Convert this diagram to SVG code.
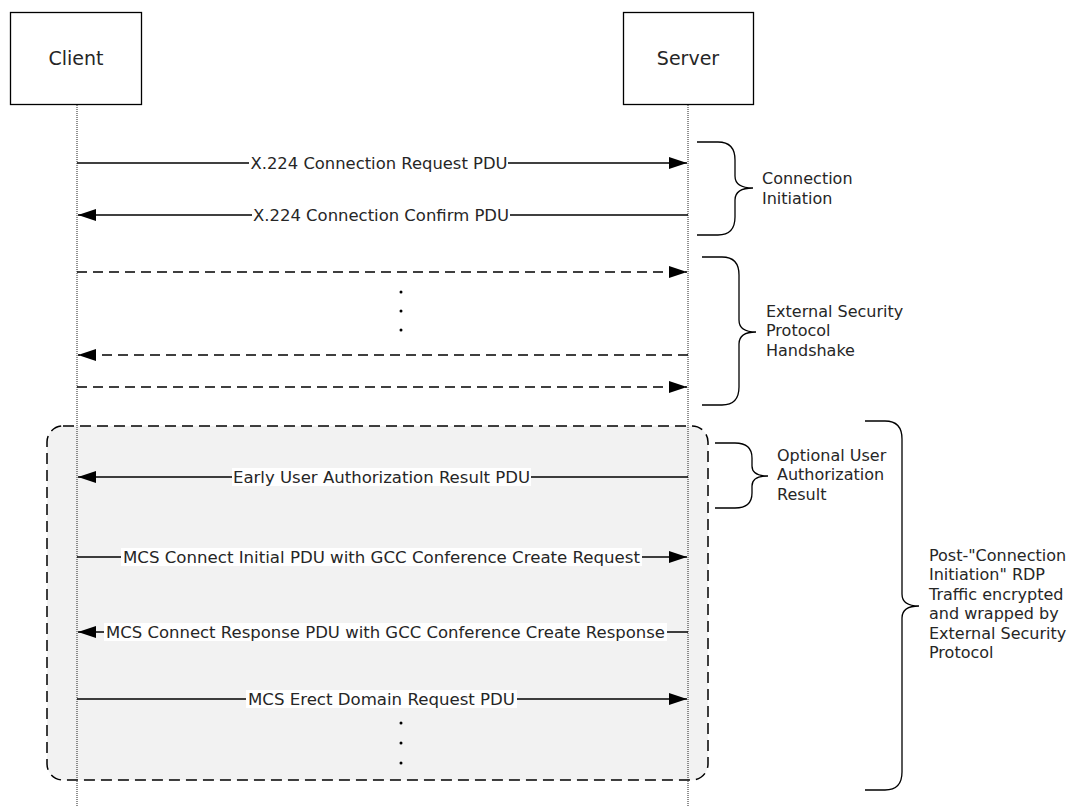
<svg xmlns="http://www.w3.org/2000/svg" width="1073" height="806" viewBox="0 0 1073 806">
<defs>
<style>
text{font-family:"DejaVu Sans",Verdana,"Liberation Sans",sans-serif;fill:#262626}
.lbl{font-size:16px;text-anchor:middle}
.note{font-size:16px}
.actor{font-size:19px;text-anchor:middle}
.box{fill:#fff;stroke:#000;stroke-width:1.3}
.life{stroke:#222;stroke-width:1;stroke-dasharray:1 1;fill:none}
.msg{stroke:#000;stroke-width:1.3;fill:none}
.dash{stroke:#000;stroke-width:1.3;fill:none;stroke-dasharray:10 6}
.brace{stroke:#000;stroke-width:1.3;fill:none}
.bg{fill:#fff}
.dot{fill:#000}
</style>
<marker id="ah" viewBox="0 0 18 12" refX="18" refY="6" markerWidth="18" markerHeight="12" markerUnits="userSpaceOnUse" orient="auto">
<path d="M0,0 L18,6 L0,12 Z" fill="#000"/>
</marker>
</defs>
<rect width="1073" height="806" fill="#fff"/>
<g id="group-box">
<rect x="47" y="426" width="661" height="354" rx="16" ry="16" fill="#f2f2f2" stroke="#000" stroke-width="1.5" stroke-dasharray="11 6"/>
</g>
<g id="client">
<rect class="box" x="10.5" y="12.5" width="131" height="92"/>
<text class="actor" x="76" y="65">Client</text>
<line class="life" x1="77" y1="105" x2="77" y2="806"/>
</g>
<g id="server">
<rect class="box" x="623.5" y="12.5" width="130" height="92"/>
<text class="actor" x="688" y="65">Server</text>
<line class="life" x1="688" y1="105" x2="688" y2="806"/>
</g>
<g id="connectors">
<line class="msg" x1="77" y1="163" x2="687" y2="163" marker-end="url(#ah)"/>
<line class="msg" x1="688" y1="215" x2="78" y2="215" marker-end="url(#ah)"/>
<line class="dash" x1="77" y1="272" x2="687" y2="272" marker-end="url(#ah)"/>
<line class="dash" x1="688" y1="355" x2="78" y2="355" marker-end="url(#ah)"/>
<line class="dash" x1="77" y1="387" x2="687" y2="387" marker-end="url(#ah)"/>
<line class="msg" x1="688" y1="477" x2="78" y2="477" marker-end="url(#ah)"/>
<line class="msg" x1="77" y1="557" x2="687" y2="557" marker-end="url(#ah)"/>
<line class="msg" x1="688" y1="632" x2="78" y2="632" marker-end="url(#ah)"/>
<line class="msg" x1="77" y1="699" x2="687" y2="699" marker-end="url(#ah)"/>
</g>
<g id="labels">
<rect class="bg" x="249" y="154" width="259" height="18"/>
<text class="lbl" x="379" y="169" textLength="257" lengthAdjust="spacingAndGlyphs">X.224 Connection Request PDU</text>
<rect class="bg" x="252" y="206" width="258" height="18"/>
<text class="lbl" x="381" y="221" textLength="256" lengthAdjust="spacingAndGlyphs">X.224 Connection Confirm PDU</text>
<rect class="bg" x="232" y="468" width="299" height="18"/>
<text class="lbl" x="381.5" y="483" textLength="297" lengthAdjust="spacingAndGlyphs">Early User Authorization Result PDU</text>
<rect class="bg" x="121" y="548" width="521" height="18"/>
<text class="lbl" x="381.5" y="563" textLength="517" lengthAdjust="spacingAndGlyphs">MCS Connect Initial PDU with GCC Conference Create Request</text>
<rect class="bg" x="104" y="623" width="563" height="18"/>
<text class="lbl" x="385.5" y="638" textLength="559" lengthAdjust="spacingAndGlyphs">MCS Connect Response PDU with GCC Conference Create Response</text>
<rect class="bg" x="246" y="690" width="271" height="18"/>
<text class="lbl" x="381.5" y="705" textLength="267" lengthAdjust="spacingAndGlyphs">MCS Erect Domain Request PDU</text>
</g>
<g id="ellipsis">
<circle class="dot" cx="401" cy="292" r="1.5"/>
<circle class="dot" cx="401" cy="311" r="1.5"/>
<circle class="dot" cx="401" cy="330" r="1.5"/>
<circle class="dot" cx="401" cy="723" r="1.5"/>
<circle class="dot" cx="401" cy="743" r="1.5"/>
<circle class="dot" cx="401" cy="763" r="1.5"/>
</g>
<g id="brace-connection-initiation">
<path class="brace" d="M697,142 L718,142 Q735,142 735,160 L735,176 Q735,188 753,188 Q735,188 735,200 L735,217 Q735,235 718,235 L697,235"/>
<text class="note" x="762" y="184">Connection</text>
<text class="note" x="762" y="204">Initiation</text>
</g>
<g id="brace-external-security">
<path class="brace" d="M702,257 L722,257 Q739,257 739,275 L739,320 Q739,332 756,332 Q739,332 739,344 L739,387 Q739,405 722,405 L702,405"/>
<text class="note" x="766" y="317">External Security</text>
<text class="note" x="766" y="336">Protocol</text>
<text class="note" x="766" y="356">Handshake</text>
</g>
<g id="brace-optional-user">
<path class="brace" d="M715,443 L735,443 Q752,443 752,458 L752,466 Q752,476 768,476 Q752,476 752,486 L752,493 Q752,508 735,508 L715,508"/>
<text class="note" x="777" y="461">Optional User</text>
<text class="note" x="777" y="480">Authorization</text>
<text class="note" x="777" y="500">Result</text>
</g>
<g id="brace-post-connection">
<path class="brace" d="M865,421 L885,421 Q902,421 902,439 L902,594 Q902,606 919,606 Q902,606 902,618 L902,772 Q902,790 885,790 L865,790"/>
<text class="note" x="929" y="561">Post-"Connection</text>
<text class="note" x="929" y="580">Initiation" RDP</text>
<text class="note" x="929" y="600">Traffic encrypted</text>
<text class="note" x="929" y="619">and wrapped by</text>
<text class="note" x="929" y="639">External Security</text>
<text class="note" x="929" y="658">Protocol</text>
</g>
</svg>
